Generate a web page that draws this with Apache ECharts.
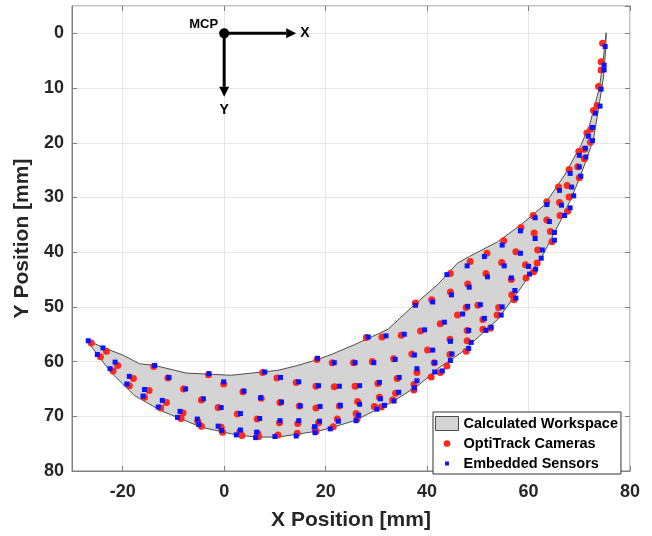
<!DOCTYPE html>
<html>
<head>
<meta charset="utf-8">
<script src="https://cdn.jsdelivr.net/npm/echarts@6/dist/echarts.min.js"></script>
<style>html,body{margin:0;padding:0;background:#fff}#c{width:652px;height:536px}</style>
</head>
<body>
<div id="c"></div>
<script>
// ---- data ----
const seriesNames = ['Calculated Workspace', 'OptiTrack Cameras', 'Embedded Sensors'];
const xAxisTitle = 'X Position [mm]';
const yAxisTitle = 'Y Position [mm]';

// workspace boundary: upper edge (left -> right), lower edge (right -> left)
const workspaceUpper = [[-27.2,56.0],[-24.2,57.3],[-20,58.8],[-16.7,60.4],[-13.7,60.7],[-7.5,62.1],[1.4,62.5],[10.6,61.6],[14.5,60.7],[18.5,59.6],[21.1,58.7],[25.7,56.9],[32.3,54.1],[37.5,49.6],[42.1,45.9],[46.0,42.0],[48.3,40.8],[53.9,38.1],[58.5,35.0],[63.1,31.4],[67.1,25.9],[70.3,20.5],[72.0,16.9],[73.9,10.2],[74.6,5.9],[75.3,-0.1]];
const workspaceLower = [[75.2,3.0],[74.8,7.8],[73.9,13.2],[72.8,19.3],[71.7,22.3],[70.3,25.9],[68.4,30.2],[66.4,34.1],[62.5,41.1],[58.5,46.5],[53.9,52.3],[46.7,58.4],[42.4,61.1],[38.2,64.4],[32.9,67.5],[25.7,70.8],[21.4,72.0],[19.1,72.6],[10.6,73.8],[6.0,73.8],[1.4,73.2],[-4.5,72.0],[-12.4,69.0],[-17.7,66.2],[-22.3,62.0]];

const optiTrack = [[-26.2,56.6],[-23.2,58.1],[-24.4,59.1],[-21.0,60.7],[-21.9,61.7],[-13.9,60.9],[-17.9,63.1],[-18.7,64.4],[-11.1,63.0],[-14.8,65.3],[-15.7,66.5],[-8.0,65.0],[-11.4,67.5],[-12.5,68.5],[-4.5,67.0],[-8.1,69.4],[-8.5,70.4],[-5.2,70.9],[-4.5,71.8],[-3.1,62.4],
[-0.1,64.1],[3.7,65.5],[-1.2,68.4],[7.6,62.0],[10.4,63.0],[7.3,66.7],[2.6,69.6],[11.0,67.5],[-0.6,72.0],[-0.3,72.9],[3.1,72.8],[3.5,73.5],[6.5,70.5],[6.6,73.1],[6.8,73.7],[10.6,73.4],[10.9,71.2],[14.2,63.8],[14.8,68.1],[14.5,71.3],[14.4,73.1],[18.3,59.6],[18.1,64.5],[18.1,68.5],[18.6,71.2],[17.9,72.2],[18.1,72.8],[21.5,71.9],[21.3,60.2],[21.7,64.6],[22.7,68.1],[22.3,70.5],[25.5,60.2],[25.8,64.5],[26.3,67.3],[26.0,69.5],[26.2,70.5],[28.0,55.6],[29.2,60.0],[30.3,64.0],[30.6,66.5],[29.6,68.2],[31.0,68.3],[31.1,55.5],[33.4,59.5],[34.1,63.1],[33.8,65.8],[33.2,67.0],[34.9,55.2],[37.0,58.6],[38.0,62.0],[37.4,64.2],[37.4,65.2],[38.7,54.4],[40.1,57.9],[41.4,60.2],[40.8,62.8],[42.6,62.0],[43.9,60.8],[44.5,58.7],[37.7,49.3],[40.9,48.7],[42.6,53.1],[44.5,55.9],[44.6,47.3],
[63.6,30.8],[66.1,30.9],[60.9,33.3],[63.6,34.1],[66.2,33.3],[58.5,35.5],[61.1,36.5],[64.3,36.2],[64.6,38.1],[55.1,37.9],[57.5,39.9],[61.8,39.6],[61.7,42.0],[61.0,43.6],[51.8,40.2],[54.7,41.9],[59.4,42.3],[59.5,44.7],[48.5,41.7],[51.6,43.9],[56.6,45.0],[44.6,43.9],[48.0,45.8],[56.7,47.8],[57.1,48.7],[47.7,50.1],[50.0,49.7],[54.1,50.1],[46.0,51.5],[53.8,51.5],[51.0,52.3],[51.0,54.1],[52.5,53.9],[47.9,54.3],[47.9,56.2],[47.7,58.1],
[74.6,1.8],[74.3,5.2],[74.3,6.7],[73.8,9.7],[73.5,13.2],[72.8,14.1],[72.3,17.5],[71.5,18.2],[72.2,19.9],[69.9,21.6],[71.0,21.2],[71.0,22.9],[68.0,24.9],[69.7,24.4],[70.0,26.4],[65.9,28.1],[67.6,27.8],[68.0,29.9],[67.7,32.5]];

const embedded = [[-26.8,56.2],[-23.9,57.5],[-25.0,58.7],[-21.5,60.1],[-22.5,61.3],[-13.7,60.7],[-18.7,62.7],[-19.2,64.1],[-10.9,62.9],[-15.7,65.1],[-16.0,66.3],[-7.6,65.0],[-12.2,67.1],[-13.0,68.3],[-4.1,66.8],[-8.7,69.1],[-9.2,70.2],[-5.3,70.5],[-5.0,71.5],[-3.0,62.2],
[-0.1,63.7],[3.9,65.4],[-0.6,68.4],[8.0,61.9],[11.1,62.9],[7.2,66.6],[3.2,69.5],[11.3,67.4],[-1.2,71.8],[-0.5,72.6],[3.2,72.5],[2.4,73.4],[7.0,70.4],[6.4,72.9],[6.2,73.9],[10.0,73.7],[11.0,70.8],[14.7,63.7],[15.0,68.1],[14.7,70.8],[14.2,73.6],[18.4,59.4],[18.6,64.4],[18.9,68.2],[18.8,70.9],[17.8,71.9],[17.9,73.0],[20.9,72.3],[21.7,60.2],[22.7,64.5],[22.9,68.0],[22.5,70.9],[25.8,60.2],[26.7,64.4],[26.7,67.8],[26.5,69.8],[26.0,70.8],[28.4,55.5],[29.5,60.2],[30.6,63.8],[30.8,66.8],[30.1,68.7],[31.6,68.0],[31.9,55.3],[33.7,59.6],[34.5,62.9],[34.4,65.6],[33.5,67.2],[35.5,55.0],[37.5,58.8],[38.0,61.3],[38.0,63.5],[37.5,64.8],[39.5,54.2],[41.1,57.9],[41.5,60.2],[41.5,61.9],[43.0,61.7],[44.6,59.8],[44.9,58.6],[37.7,49.7],[41.1,49.1],[43.4,52.8],[44.6,56.3],[44.8,47.8],
[63.6,31.3],[66.5,31.4],[61.3,33.7],[64.1,34.4],[67.1,33.3],[58.4,36.1],[61.3,37.5],[65.1,36.4],[65.1,37.8],[54.8,38.7],[58.4,40.2],[62.7,39.6],[62.5,41.1],[61.4,43.1],[51.3,40.8],[55.2,42.5],[60.0,42.6],[60.2,44.0],[47.9,42.5],[51.9,44.5],[56.6,44.7],[43.9,44.1],[48.3,46.4],[57.3,47.0],[57.5,48.4],[48.0,49.9],[50.5,49.6],[54.8,50.0],[47.0,51.3],[54.6,51.5],[51.3,52.1],[51.6,54.3],[52.6,53.7],[48.2,54.3],[48.7,56.5],[48.2,57.6],
[75.1,2.4],[74.9,5.8],[74.9,6.7],[74.3,10.2],[74.1,13.3],[73.2,14.6],[72.6,17.2],[71.8,18.8],[72.6,19.6],[70.0,22.3],[71.2,21.0],[71.3,22.6],[68.2,25.6],[70.0,24.4],[70.3,26.1],[66.1,28.7],[68.5,28.1],[68.9,29.7],[68.2,31.9]];

// MCP frame annotation
const mcpPoint = [0, 0];
const arrowXEnd = [14.2, 0];
const arrowYEnd = [0, 11.6];

// ---- chart ----
const FONT = 'Arial, "Liberation Sans", sans-serif';
const workspace = workspaceUpper.concat(workspaceLower);
const chart = echarts.init(document.getElementById('c'), null, {renderer: 'canvas'});

const axisCommon = {
  type: 'value',
  axisLine: {show: true, onZero: false, lineStyle: {color: '#808080', width: 1}},
  axisTick: {show: true, inside: true, length: 5, lineStyle: {color: '#808080'}},
  splitLine: {show: true, lineStyle: {color: '#e6e6e6', width: 1}}
};

const iconBox = 'M0,0h0.01v0.01h-0.01z M24,14h-0.01v-0.01h0.01z ';

chart.setOption({
  animation: false,
  backgroundColor: '#fff',
  grid: {left: 72, right: 22, top: 6, bottom: 62, show: true, borderColor: '#808080', borderWidth: 1, backgroundColor: 'transparent'},
  legend: {
    orient: 'vertical', left: 433, top: 412,
    padding: [4, 3, 3, 2], itemGap: 5, itemWidth: 23, itemHeight: 14,
    backgroundColor: '#fff', borderColor: '#333', borderWidth: 1, borderRadius: 0,
    textStyle: {fontFamily: FONT, fontSize: 14.5, lineHeight: 14, fontWeight: 'bold', color: '#000'},
    selectedMode: false,
    data: [
      {name: seriesNames[0], icon: 'rect', itemStyle: {color: '#d4d4d4', borderColor: '#4d4d4d', borderWidth: 1}},
      {name: seriesNames[1], icon: 'path://' + iconBox + 'M8.5,7a3.5,3.5 0 1 0 7 0a3.5,3.5 0 1 0 -7 0z', itemStyle: {color: '#ff2a1a', borderWidth: 0}},
      {name: seriesNames[2], icon: 'path://' + iconBox + 'M10,5h4v4h-4z', itemStyle: {color: '#0a14ff', borderWidth: 0}}
    ]
  },
  xAxis: [
    Object.assign({}, axisCommon, {
      min: -30, max: 80, splitNumber: 5, position: 'bottom',
      name: xAxisTitle, nameLocation: 'middle', nameGap: 39,
      nameTextStyle: {fontFamily: FONT, fontSize: 21, fontWeight: 'bold', color: '#262626'},
      axisLabel: {showMinLabel: false, margin: 12, fontFamily: FONT, fontSize: 18, fontWeight: 'bold', color: '#262626',
        formatter: v => (v === -30 ? '' : String(v))}
    }),
    Object.assign({}, axisCommon, {
      min: -30, max: 80, splitNumber: 5, position: 'top',
      axisLine: {show: false, onZero: false}, axisLabel: {show: false}, splitLine: {show: false}
    })
  ],
  yAxis: [
    Object.assign({}, axisCommon, {
      min: -5, max: 80, splitNumber: 8, inverse: true, position: 'left',
      name: yAxisTitle, nameLocation: 'middle', nameGap: 37,
      nameTextStyle: {fontFamily: FONT, fontSize: 21, fontWeight: 'bold', color: '#262626'},
      axisLabel: {showMinLabel: false, margin: 8, fontFamily: FONT, fontSize: 18, fontWeight: 'bold', color: '#262626',
        formatter: v => (v === -5 ? '' : String(v))}
    }),
    Object.assign({}, axisCommon, {
      min: -5, max: 80, splitNumber: 8, inverse: true, position: 'right',
      axisLine: {show: false, onZero: false}, axisLabel: {show: false}, splitLine: {show: false}
    })
  ],
  series: [
    {
      type: 'custom', name: seriesNames[0], xAxisIndex: 0, yAxisIndex: 0,
      data: [[0, 0]], encode: {x: 0, y: 1}, silent: true, z: 2,
      itemStyle: {color: '#d4d4d4', borderColor: '#4d4d4d', borderWidth: 1},
      renderItem: function (params, api) {
        const pts = workspace.map(p => api.coord(p));
        return {type: 'polygon', shape: {points: pts},
          style: {fill: '#d4d4d4', stroke: '#4d4d4d', lineWidth: 1}};
      }
    },
    {
      type: 'scatter', name: seriesNames[1], data: optiTrack, symbol: 'circle', symbolSize: 7,
      itemStyle: {color: '#ff2a1a', opacity: 1}, silent: true, z: 3
    },
    {
      type: 'scatter', name: seriesNames[2], data: embedded, symbol: 'rect', symbolSize: 5,
      itemStyle: {color: '#0a14ff', opacity: 1}, silent: true, z: 4
    },
    {
      type: 'custom', xAxisIndex: 0, yAxisIndex: 0, data: [mcpPoint], encode: {x: 0, y: 1}, silent: true, z: 5,
      renderItem: function (params, api) {
        const o = api.coord(mcpPoint);
        const xe = api.coord(arrowXEnd);
        const ye = api.coord(arrowYEnd);
        const hl = 10, hw = 5;
        const tx = {fontFamily: FONT, fontWeight: 'bold', fill: '#000'};
        return {type: 'group', children: [
          {type: 'line', shape: {x1: o[0], y1: o[1], x2: xe[0] - hl, y2: xe[1]}, style: {stroke: '#000', lineWidth: 3}},
          {type: 'polygon', shape: {points: [[xe[0], xe[1]], [xe[0] - hl, xe[1] - hw], [xe[0] - hl, xe[1] + hw]]}, style: {fill: '#000'}},
          {type: 'line', shape: {x1: o[0], y1: o[1], x2: ye[0], y2: ye[1] - hl}, style: {stroke: '#000', lineWidth: 3}},
          {type: 'polygon', shape: {points: [[ye[0], ye[1]], [ye[0] - hw, ye[1] - hl], [ye[0] + hw, ye[1] - hl]]}, style: {fill: '#000'}},
          {type: 'circle', shape: {cx: o[0], cy: o[1], r: 5}, style: {fill: '#000'}},
          {type: 'text', x: o[0] - 6, y: o[1] - 9, style: Object.assign({text: 'MCP', fontSize: 13, align: 'right', verticalAlign: 'middle'}, tx)},
          {type: 'text', x: xe[0] + 4, y: xe[1], style: Object.assign({text: 'X', fontSize: 14, align: 'left', verticalAlign: 'middle'}, tx)},
          {type: 'text', x: ye[0], y: ye[1] + 6, style: Object.assign({text: 'Y', fontSize: 14, align: 'center', verticalAlign: 'top'}, tx)}
        ]};
      }
    }
  ]
});
</script>
</body>
</html>
